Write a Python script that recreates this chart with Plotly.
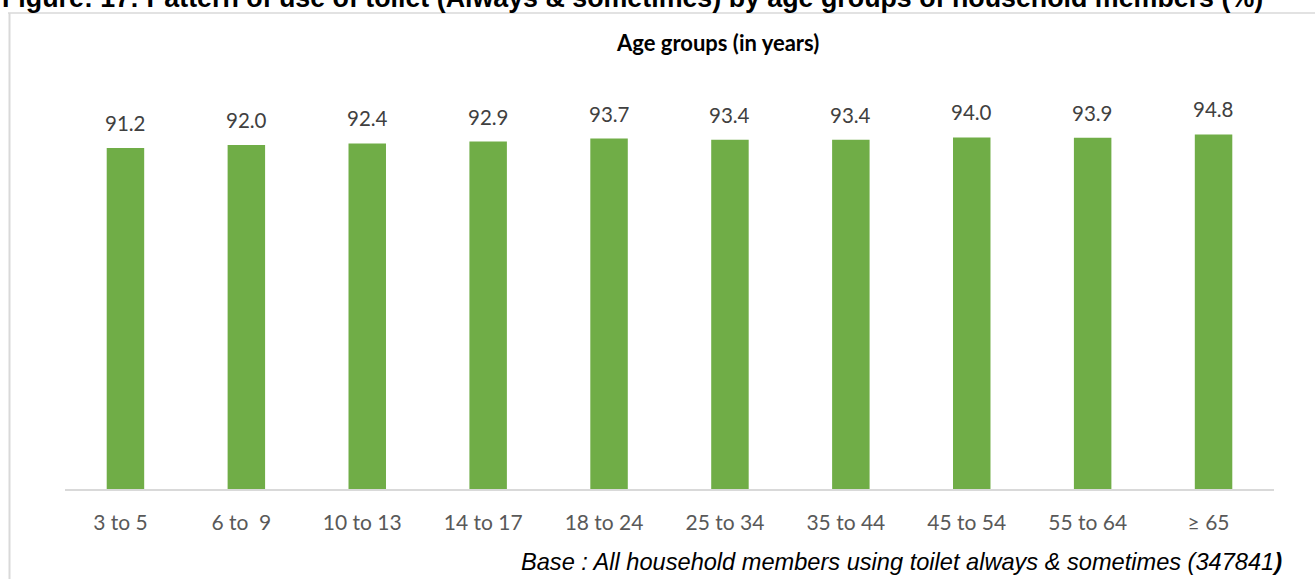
import plotly.graph_objects as go

# Age groups and share of members using a toilet (always & sometimes), %
age_groups = ["3 to 5", "6 to  9", "10 to 13", "14 to 17", "18 to 24",
              "25 to 34", "35 to 44", "45 to 54", "55 to 64", "≥ 65"]
usage_pct = [91.2, 92.0, 92.4, 92.9, 93.7, 93.4, 93.4, 94.0, 93.9, 94.8]

W, H = 1315, 579
L, R, T, B = 65, 41, 115, 90
PW, PH = W - L - R, H - T - B


def px(x):
    return (x - L) / PW


def py(y):
    return (H - B - y) / PH


fig = go.Figure()
fig.add_trace(go.Bar(
    x=age_groups,
    y=usage_pct,
    marker=dict(color="#70ad47", line=dict(width=0)),
    hoverinfo="x+y",
))

annotations = []
for g, v in zip(age_groups, usage_pct):
    annotations.append(dict(
        x=g, y=v, xref="x", yref="y", text=f"{v:.1f}",
        showarrow=False, yanchor="bottom", yshift=11,
        font=dict(family="Lato, Open Sans, sans-serif", size=20.5, color="#404040"),
    ))

annotations += [
    dict(x=px(0), y=py(-1.5), xref="paper", yref="paper", xanchor="left",
         yanchor="middle",
         text="<b>Figure: 17: Pattern of use of toilet (Always & sometimes) by age groups of household members (%)</b>",
         showarrow=False,
         font=dict(family="Liberation Sans, Arial, sans-serif", size=26.8, color="#000000")),
    dict(x=px(717), y=py(43), xref="paper", yref="paper", xanchor="center",
         yanchor="middle", text="<b>Age groups (in years)</b>", showarrow=False,
         font=dict(family="Lato, Open Sans, sans-serif", size=22, color="#000000")),
    dict(x=px(1284), y=py(562), xref="paper", yref="paper", xanchor="right",
         yanchor="middle",
         text="<i>Base : All household members using toilet always & sometimes (347841</i><b><i>)</i></b>",
         showarrow=False,
         font=dict(family="Liberation Sans, Arial, sans-serif", size=23.6, color="#000000")),
]

shapes = [
    dict(type="line", xref="paper", yref="paper", x0=px(8), x1=px(1316),
         y0=py(13), y1=py(13), line=dict(color="#d9d9d9", width=1.5)),
    dict(type="line", xref="paper", yref="paper", x0=px(9.5), x1=px(9.5),
         y0=py(13), y1=py(580), line=dict(color="#d9d9d9", width=2)),
]

fig.update_layout(
    width=W, height=H,
    margin=dict(l=L, r=R, t=T, b=B, pad=0),
    paper_bgcolor="white", plot_bgcolor="white",
    showlegend=False,
    bargap=0.69,
    annotations=annotations,
    shapes=shapes,
    xaxis=dict(
        type="category", showgrid=False, zeroline=False,
        showline=True, linecolor="#d9d9d9", linewidth=1.5,
        ticks="", ticklabelstandoff=14, ticklabelshift=-5,
        tickfont=dict(family="Lato, Open Sans, sans-serif", size=21, color="#595959"),
    ),
    yaxis=dict(range=[0, 100], visible=False, showgrid=False, zeroline=False),
)

fig.write_html("out.html")
